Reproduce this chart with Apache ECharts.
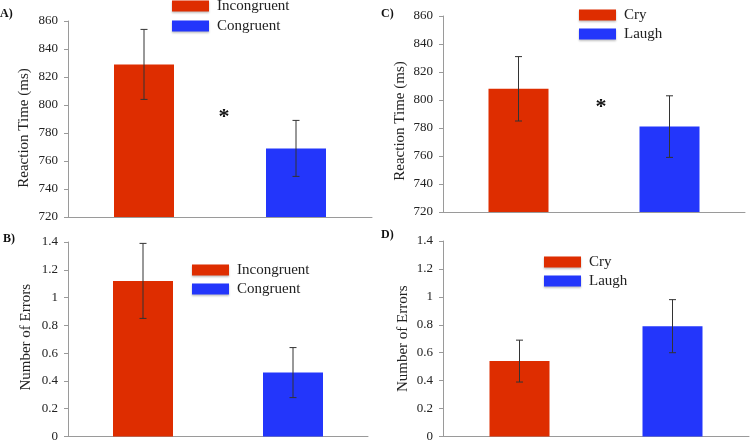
<!DOCTYPE html>
<html>
<head>
<meta charset="utf-8">
<script src="https://cdn.jsdelivr.net/npm/echarts@6/dist/echarts.min.js"></script>
<style>html,body{margin:0;padding:0;background:#fff;}#c{width:750px;height:443px;}</style>
</head>
<body>
<div id="c"></div>
<script>
// ---- data ----
const condA = ['Incongruent', 'Congruent'];
const rtCond = [829, 769];
const rtCondErr = [25, 20];
const errCond = [1.12, 0.46];
const errCondErr = [0.27, 0.18];

const condB = ['Cry', 'Laugh'];
const rtEmo = [808, 781];
const rtEmoErr = [23, 22];
const errEmo = [0.54, 0.79];
const errEmoErr = [0.15, 0.19];

const rtTicks = {min: 720, max: 860, interval: 20};
const errTicks = {min: 0, max: 1.4, interval: 0.2};

const RED = '#DE2D00';
const BLUE = '#2336FB';
const FONT = 'Liberation Serif';

const chart = echarts.init(document.getElementById('c'), null, {renderer: 'canvas'});

const grids = [
  {left: 68, top: 21, width: 304, height: 196},
  {left: 68, top: 242, width: 300, height: 195},
  {left: 443, top: 16, width: 302, height: 196},
  {left: 443, top: 241, width: 306, height: 196}
];

const panels = [
  {cats: condA, vals: rtCond, errs: rtCondErr, ticks: rtTicks, name: 'Reaction Time (ms)', gap: 36, pad: [0, 18, 0, 0]},
  {cats: condA, vals: errCond, errs: errCondErr, ticks: errTicks, name: 'Number of Errors', gap: 34, pad: [0, 0, 0, 4]},
  {cats: condB, vals: rtEmo, errs: rtEmoErr, ticks: rtTicks, name: 'Reaction Time (ms)', gap: 35, pad: [0, 14, 0, 0]},
  {cats: condB, vals: errEmo, errs: errEmoErr, ticks: errTicks, name: 'Number of Errors', gap: 32, pad: [0, 0, 0, 0]}
];

const xAxis = [], yAxis = [], series = [];
panels.forEach((p, i) => {
  xAxis.push({
    type: 'category', gridIndex: i, data: p.cats,
    axisLine: {lineStyle: {color: '#9a9a9a', width: 1}},
    axisTick: {show: false}, axisLabel: {show: false}
  });
  yAxis.push({
    type: 'value', gridIndex: i, min: p.ticks.min, max: p.ticks.max, interval: p.ticks.interval,
    name: p.name, nameLocation: 'middle', nameGap: p.gap,
    nameTextStyle: {fontFamily: FONT, fontSize: 15, color: '#222', padding: p.pad},
    axisLine: {show: true, lineStyle: {color: '#9a9a9a', width: 1}},
    axisTick: {show: true, length: 4, lineStyle: {color: '#9a9a9a'}},
    splitLine: {show: false},
    axisLabel: {fontFamily: FONT, fontSize: 13, color: '#222', margin: 10}
  });
  p.cats.forEach((c, k) => {
    series.push({
      type: 'bar', name: c, xAxisIndex: i, yAxisIndex: i,
      barWidth: 60, barGap: '-100%',
      itemStyle: {color: k === 0 ? RED : BLUE},
      data: p.vals.map((v, j) => j === k ? v : '-'),
      animation: false
    });
  });
  series.push({
    type: 'custom', xAxisIndex: i, yAxisIndex: i, animation: false, silent: true,
    data: p.vals.map((v, j) => [j, v - p.errs[j], v + p.errs[j]]),
    renderItem: function (params, api) {
      const lo = api.coord([api.value(0), api.value(1)]);
      const hi = api.coord([api.value(0), api.value(2)]);
      const w = 3.5;
      const st = {stroke: '#333', lineWidth: 1};
      return {type: 'group', children: [
        {type: 'line', shape: {x1: lo[0], y1: lo[1], x2: hi[0], y2: hi[1]}, style: st},
        {type: 'line', shape: {x1: hi[0] - w, y1: hi[1], x2: hi[0] + w, y2: hi[1]}, style: st},
        {type: 'line', shape: {x1: lo[0] - w, y1: lo[1], x2: lo[0] + w, y2: lo[1]}, style: st}
      ]};
    },
    z: 5
  });
});

const legendBase = {
  orient: 'vertical', padding: 0, itemWidth: 37, itemHeight: 11, itemGap: 4,
  icon: 'rect', itemStyle: {shadowBlur: 2, shadowColor: 'rgba(0,0,0,0.25)', shadowOffsetY: 1},
  textStyle: {fontFamily: FONT, fontSize: 15, color: '#222', lineHeight: 16, padding: [0, 0, 0, 3]},
  selectedMode: false
};
const legends = [
  Object.assign({}, legendBase, {data: condA, left: 172, top: -2, itemGap: 4}),
  Object.assign({}, legendBase, {data: condA, left: 192, top: 262, itemGap: 3}),
  Object.assign({}, legendBase, {data: condB, left: 579, top: 7, itemGap: 3}),
  Object.assign({}, legendBase, {data: condB, left: 544, top: 254, itemGap: 3})
];

const labelStyle = {fontFamily: FONT, fontSize: 12, fontWeight: 'bold', fill: '#111', textVerticalAlign: 'middle'};
const starStyle = {fontFamily: FONT, fontSize: 22, fontWeight: 'bold', fill: '#111', textAlign: 'center', textVerticalAlign: 'middle'};

chart.setOption({
  backgroundColor: '#fff',
  animation: false,
  grid: grids,
  xAxis: xAxis,
  yAxis: yAxis,
  legend: legends,
  series: series,
  graphic: [
    {type: 'text', left: 0, top: 8, style: Object.assign({text: 'A)'}, labelStyle)},
    {type: 'text', left: 3, top: 233, style: Object.assign({text: 'B)'}, labelStyle)},
    {type: 'text', left: 381, top: 8, style: Object.assign({text: 'C)'}, labelStyle)},
    {type: 'text', left: 381, top: 229, style: Object.assign({text: 'D)'}, labelStyle)},
    {type: 'text', x: 224, y: 117, style: Object.assign({text: '*'}, starStyle)},
    {type: 'text', x: 601, y: 107, style: Object.assign({text: '*'}, starStyle)}
  ]
});
</script>
</body>
</html>
